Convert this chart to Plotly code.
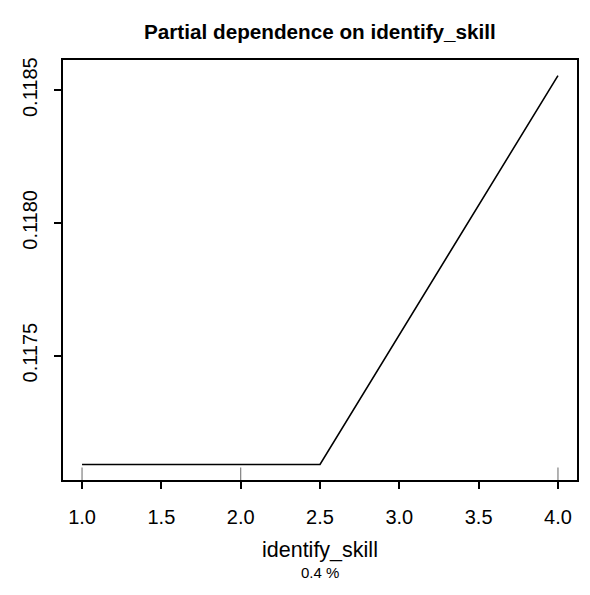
import plotly.graph_objects as go

# Data
pd_x = [1.0, 2.0, 2.5, 4.0]
pd_y = [0.11709, 0.11709, 0.11709, 0.118555]
rug_x = [1.0, 2.0, 4.0]
x_ticks = [1.0, 1.5, 2.0, 2.5, 3.0, 3.5, 4.0]
y_ticks = [0.1175, 0.1180, 0.1185]
title_text = "Partial dependence on identify_skill"
xlab = "identify_skill"
sublab = "0.4 %"

xmin, xmax = min(pd_x), max(pd_x)
ymin, ymax = min(pd_y), max(pd_y)
xr = [xmin - 0.04 * (xmax - xmin), xmax + 0.04 * (xmax - xmin)]
yr = [ymin - 0.04 * (ymax - ymin), ymax + 0.04 * (ymax - ymin)]

FONT = "Liberation Sans, Arial, Helvetica, sans-serif"

fig = go.Figure()
fig.add_trace(go.Scatter(x=pd_x, y=pd_y, mode="lines",
                         line=dict(color="black", width=1.6), showlegend=False,
                         hoverinfo="skip"))

# rug
rx, ry = [], []
rug_len = 0.03 * (yr[1] - yr[0])
for v in rug_x:
    rx += [v, v, None]
    ry += [yr[0], yr[0] + rug_len, None]
fig.add_trace(go.Scatter(x=rx, y=ry, mode="lines",
                         line=dict(color="#808080", width=1.2), showlegend=False,
                         hoverinfo="skip", cliponaxis=False))

fig.update_layout(
    width=582, height=587,
    margin=dict(l=51, r=11, t=52, b=115),
    paper_bgcolor="white", plot_bgcolor="white",
    font=dict(family=FONT, color="black", size=20),
    showlegend=False,
    xaxis=dict(range=xr, tickvals=x_ticks, ticktext=[f"{v:.1f}" for v in x_ticks],
               showgrid=False, zeroline=False, showline=True, linecolor="black",
               linewidth=1.5, mirror=True, ticks="outside", ticklen=7,
               tickwidth=1.5, tickcolor="black", ticklabelstandoff=11,
               tickfont=dict(size=20)),
    yaxis=dict(range=yr, tickvals=y_ticks, ticktext=[f"{v:.4f}" for v in y_ticks],
               showgrid=False, zeroline=False, showline=True, linecolor="black",
               linewidth=1.5, mirror=True, ticks="outside", ticklen=7,
               tickwidth=1.5, tickcolor="black", tickangle=-90,
               ticklabelstandoff=9, tickfont=dict(size=20)),
    annotations=[
        dict(text="<b>" + title_text + "</b>", x=0.5, y=1.0667, xref="paper",
             yref="paper", xanchor="center", yanchor="middle", showarrow=False,
             font=dict(size=20.7, family=FONT)),
        dict(text=xlab, x=0.5, y=-0.1667, xref="paper", yref="paper",
             xanchor="center", yanchor="middle", showarrow=False,
             font=dict(size=21.5, family=FONT)),
        dict(text=sublab, x=0.5, y=-0.2214, xref="paper", yref="paper",
             xanchor="center", yanchor="middle", showarrow=False,
             font=dict(size=15, family=FONT)),
    ],
)

fig.write_html("out.html")
